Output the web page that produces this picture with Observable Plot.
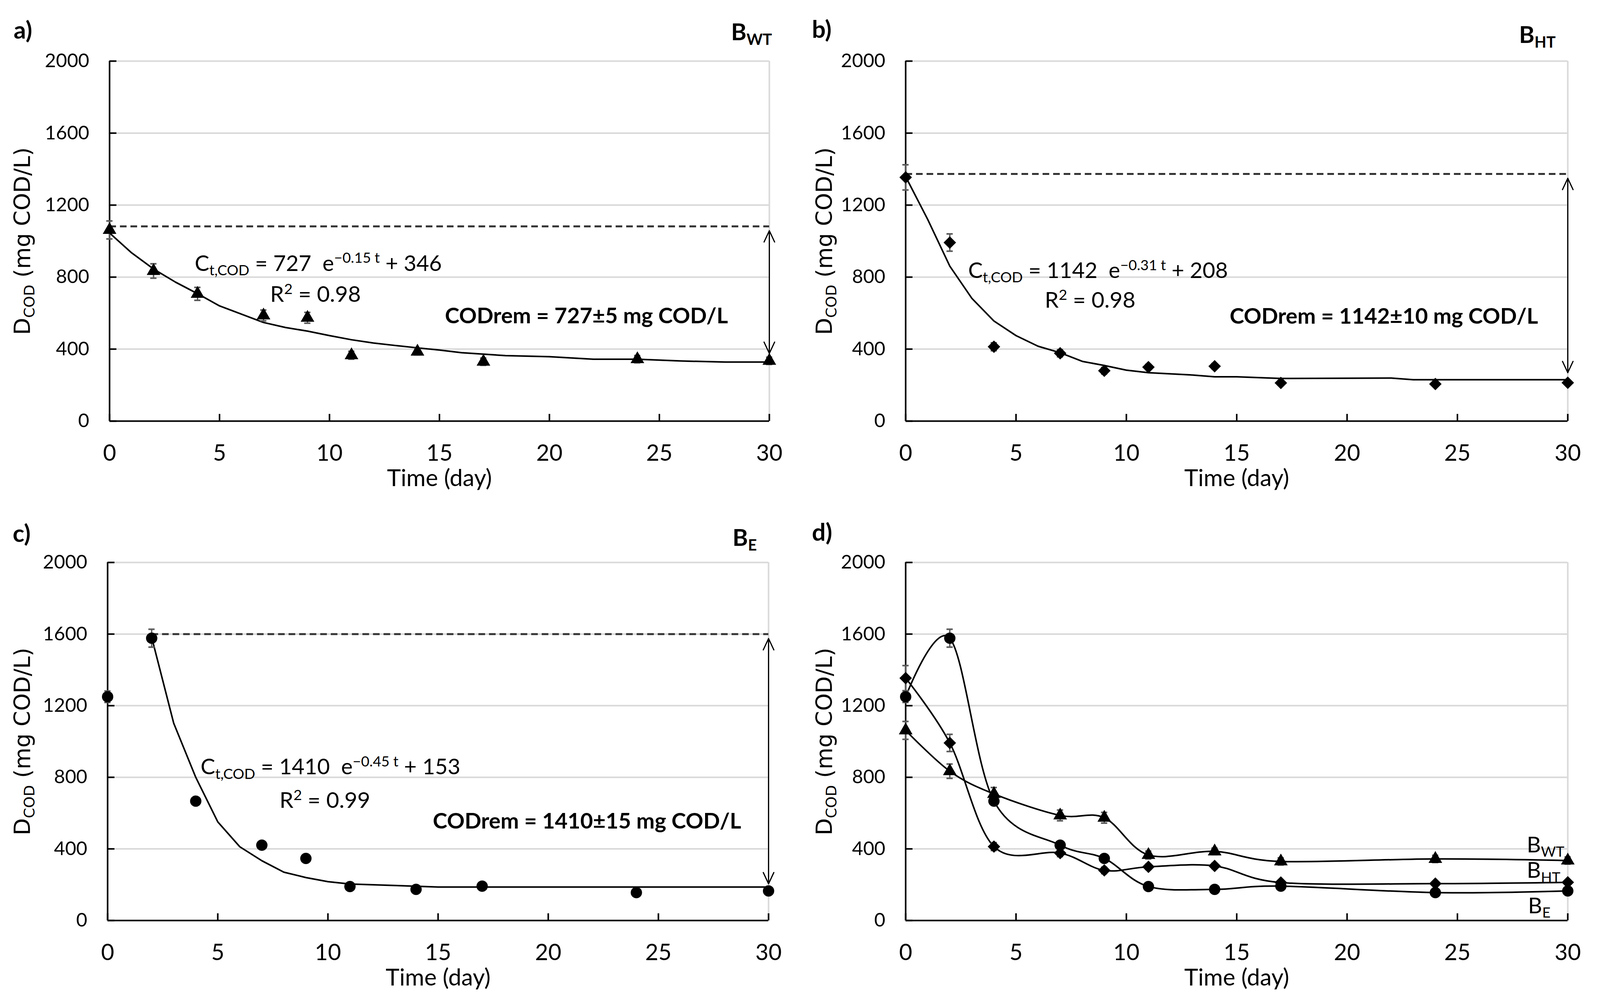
<!DOCTYPE html>
<html><head><meta charset="utf-8">
<script src="https://cdn.jsdelivr.net/npm/d3@7"></script>
<script src="https://cdn.jsdelivr.net/npm/@observablehq/plot@0.6"></script>
<style>
body{margin:0;background:#fff;}
#fig{position:relative;width:4107px;height:2579px;background:#fff;overflow:hidden;}
.panel{position:absolute;}
svg{overflow:visible;}
</style></head><body><div id="fig"></div>
<script>
// ---------------- data ----------------
const days = [0, 2, 4, 7, 9, 11, 14, 17, 24, 30];
const bWT    = [1062, 834, 707, 587, 574, 366, 386, 330, 344, 335];
const bWTerr = [50, 40, 36, 30, 30, 22, 18, 20, 20, 20];
const bHT    = [1354, 992, 413, 377, 280, 300, 305, 212, 206, 213];
const bHTerr = [70, 48, 22, 20, 18, 15, 15, 12, 12, 12];
const bE     = [1250, 1577, 667, 421, 347, 190, 174, 192, 156, 165];
const bEerr  = [32, 50, 15, 12, 12, 10, 10, 10, 10, 10];

// fitted curves
const fitA_t = [0, 1, 2, 3, 4, 5, 7, 8, 9, 10, 11, 12, 13, 14, 15, 16, 18, 20, 22, 24, 26, 28, 30];
const fitA_v = [1045, 935, 845, 772, 708, 640, 548, 520, 500, 475, 452, 434, 420, 407, 395, 380, 364, 358, 344, 344, 334, 328, 328];
const fitB_t = [0, 1, 2, 3, 4, 5, 6, 7, 8, 9, 10, 11, 13, 14, 15, 17, 22, 23, 30];
const fitB_v = [1358, 1120, 861, 682, 556, 475, 416, 380, 332, 309, 283, 269, 256, 246, 246, 237, 239, 230, 230];
const fitC_t = [2, 3, 4, 5, 6, 7, 8, 9, 10, 11, 13, 15, 30];
const fitC_v = [1582, 1102, 800, 551, 412, 334, 270, 240, 217, 204, 196, 187, 187];

// initial level (dashed) and removal arrows [top, bottom]
const initLevel = {a: 1082, b: 1373, c: 1600};
const initStart = {a: 0, b: 0, c: 2};
const removal = {a: [1058, 376], b: [1349, 269], c: [1575, 205]};

const xTicks = [0, 5, 10, 15, 20, 25, 30];
const yTicks = [0, 400, 800, 1200, 1600, 2000];

// annotation texts & anchors (data coords)
const eqText = {
  a: "C_{t,COD} = 727\u00A0 e^{\u22120.15 t} + 346",
  b: "C_{t,COD} = 1142\u00A0 e^{\u22120.31 t} + 208",
  c: "C_{t,COD} = 1410\u00A0 e^{\u22120.45 t} + 153"
};
const eqPos = {a: [3.87, 835], b: [2.83, 795], c: [4.22, 816]};
const r2Text = {a: "R^{2} = 0.98", b: "R^{2} = 0.98", c: "R^{2} = 0.99"};
const r2Pos = {a: [7.3, 662], b: [6.3, 630], c: [7.8, 629]};
const remText = {a: "CODrem = 727\u00B15 mg COD/L", b: "CODrem = 1142\u00B110 mg COD/L", c: "CODrem = 1410\u00B115 mg COD/L"};
const remPos = {a: [15.25, 543], b: [14.68, 542], c: [14.76, 514]};
const panelLetter = {a: "a)", b: "b)", c: "c)", d: "d)"};
const letterPos = {a: [-4.36, 2125], b: [-4.25, 2128], c: [-4.31, 2115], d: [-4.25, 2120]};
const panelName = {a: "B_{WT}", b: "B_{HT}", c: "B_{E}"};
const namePos = {a: [30.12, 2117], b: [29.45, 2100], c: [29.47, 2092]};
const dLabels = ["B_{WT}", "B_{HT}", "B_{E}"];
const dLabelT = [28.14, 28.14, 28.2];
const dLabelV = [380, 238, 41];

// ---------------- helpers ----------------
const rows = (t, v, e) => t.map((d, i) => ({t: d, v: v[i], e: e ? e[i] : 0}));
const WT = rows(days, bWT, bWTerr), HT = rows(days, bHT, bHTerr), E = rows(days, bE, bEerr);
const svgNS = "http://www.w3.org/2000/svg";

function richify(svg) {
  svg.querySelectorAll("text").forEach(t => {
    const s = t.textContent;
    if (!/[_^]\{/.test(s)) return;
    const fs = parseFloat(getComputedStyle(t).fontSize);
    while (t.firstChild) t.removeChild(t.firstChild);
    let shift = 0;
    const add = (txt, kind) => {
      if (!txt) return;
      const ts = document.createElementNS(svgNS, "tspan");
      const target = kind === "^" ? -0.36 * fs : kind === "_" ? 0.2 * fs : 0;
      if (target - shift !== 0) ts.setAttribute("dy", target - shift);
      shift = target;
      if (kind) ts.setAttribute("font-size", 0.66 * fs);
      ts.textContent = txt;
      t.appendChild(ts);
    };
    const re = /([_^])\{([^}]*)\}/g;
    let last = 0, m;
    while ((m = re.exec(s))) {
      add(s.slice(last, m.index), null);
      add(m[2], m[1]);
      last = re.lastIndex;
    }
    add(s.slice(last), null);
  });
}

const geo = {
  a: {left: 0, top: 0, w: 2053, h: 1290, x0: 280, x1: 1969, yT: 156, yB: 1078},
  b: {left: 2053, top: 0, w: 2054, h: 1290, x0: 2318, x1: 4013, yT: 156, yB: 1078},
  c: {left: 0, top: 1290, w: 2053, h: 1289, x0: 275, x1: 1967, yT: 1440, yB: 2357},
  d: {left: 2053, top: 1290, w: 2054, h: 1289, x0: 2318, x1: 4013, yT: 1440, yB: 2357}
};

const GRID = "#d9d9d9", ERR = "#595959";

function baseMarks(g) {
  return [
    Plot.ruleY(yTicks.slice(1), {stroke: GRID, strokeWidth: 4}),
    Plot.ruleX([30], {stroke: GRID, strokeWidth: 4}),
    Plot.ruleX([0], {stroke: "black", strokeWidth: 4}),
    Plot.ruleY([0], {stroke: "black", strokeWidth: 4}),
    Plot.ruleY(yTicks, {x1: 0, x2: 0, insetRight: -18, stroke: "black", strokeWidth: 4}),
    Plot.ruleX(xTicks, {y1: 0, y2: 0, insetTop: -18, stroke: "black", strokeWidth: 4}),
    Plot.axisX({ticks: xTicks, tickSize: 0, tickPadding: 60, fontSize: 58, label: null, tickFormat: d => String(d)}),
    Plot.axisY({ticks: yTicks, tickSize: 0, tickPadding: 52, fontSize: 49, label: null, tickFormat: d => String(d)}),
    Plot.text(["Time (day)"], {frameAnchor: "bottom", dy: 166, lineAnchor: "bottom", fontSize: 60, text: d => d}),
    Plot.text(["D_{COD} (mg COD/L)"], {frameAnchor: "left", dx: -(g.x0 - g.left) + 58, rotate: -90, textAnchor: "middle", lineAnchor: "middle", fontSize: 57, fontFamily: "DejaVu Sans", text: d => d})
  ];
}

function errMarks(data) {
  return [
    Plot.ruleX(data, {x: "t", y1: d => d.v - d.e, y2: d => d.v + d.e, stroke: ERR, strokeWidth: 3.5}),
    Plot.ruleY(data, {x1: "t", x2: "t", y: d => d.v + d.e, insetLeft: -8, insetRight: -8, stroke: ERR, strokeWidth: 4}),
    Plot.ruleY(data, {x1: "t", x2: "t", y: d => d.v - d.e, insetLeft: -8, insetRight: -8, stroke: ERR, strokeWidth: 4})
  ];
}

const sym = {
  WT: {symbol: "triangle", r: 13},
  HT: {symbol: "diamond2", r: 14.4},
  E: {symbol: "circle", r: 14.5}
};

function dots(data, s) {
  return Plot.dot(data, {x: "t", y: "v", symbol: s.symbol, r: s.r, fill: "black", stroke: "none"});
}

function titleMarks(k) {
  const m = [
    Plot.text([panelLetter[k]], {x: letterPos[k][0], y: letterPos[k][1], text: d => d, textAnchor: "start", lineAnchor: "bottom", fontSize: 62, fontWeight: "bold"})
  ];
  if (panelName[k]) m.push(Plot.text([panelName[k]], {x: namePos[k][0], y: namePos[k][1], text: d => d, textAnchor: "end", lineAnchor: "bottom", fontSize: 60, fontWeight: "bold"}));
  return m;
}

function fitPanelMarks(k, data, s, ft, fv) {
  const fit = ft.map((t, i) => ({t, v: fv[i]}));
  const [top, bot] = removal[k];
  const mid = (top + bot) / 2;
  return [
    Plot.ruleY([initLevel[k]], {x1: initStart[k], x2: 30, stroke: "#333333", strokeWidth: 5, strokeDasharray: "17,10"}),
    Plot.line(fit, {x: "t", y: "v", stroke: "black", strokeWidth: 4}),
    ...errMarks(data),
    dots(data, s),
    Plot.arrow([top, bot], {x1: 30, y1: mid, x2: 30, y2: d => d, stroke: "black", strokeWidth: 3, headLength: 16, headAngle: 50}),
    Plot.text([eqText[k]], {x: eqPos[k][0], y: eqPos[k][1], text: d => d, textAnchor: "start", lineAnchor: "bottom", fontSize: 56}),
    Plot.text([r2Text[k]], {x: r2Pos[k][0], y: r2Pos[k][1], text: d => d, textAnchor: "start", lineAnchor: "bottom", fontSize: 57}),
    Plot.text([remText[k]], {x: remPos[k][0], y: remPos[k][1], text: d => d, textAnchor: "start", lineAnchor: "bottom", fontSize: 56, fontWeight: "bold"}),
    ...titleMarks(k)
  ];
}

function dPanelMarks() {
  const all = [...WT.map(d => ({...d, s: "WT"})), ...HT.map(d => ({...d, s: "HT"})), ...E.map(d => ({...d, s: "E"}))];
  return [
    Plot.line(all, {x: "t", y: "v", z: "s", curve: "cardinal", stroke: "black", strokeWidth: 4}),
    ...errMarks(all),
    dots(WT, sym.WT), dots(HT, sym.HT), dots(E, sym.E),
    Plot.text(dLabels, {x: (d, i) => dLabelT[i], y: (d, i) => dLabelV[i], text: d => d, textAnchor: "start", lineAnchor: "bottom", fontSize: 56}),
    ...titleMarks("d")
  ];
}

const panelMarks = {
  a: fitPanelMarks("a", WT, sym.WT, fitA_t, fitA_v),
  b: fitPanelMarks("b", HT, sym.HT, fitB_t, fitB_v),
  c: fitPanelMarks("c", E, sym.E, fitC_t, fitC_v),
  d: dPanelMarks()
};

const fig = document.getElementById("fig");
for (const k of ["a", "b", "c", "d"]) {
  const g = geo[k];
  const div = document.createElement("div");
  div.className = "panel";
  div.style.left = g.left + "px";
  div.style.top = g.top + "px";
  fig.appendChild(div);
  const svg = Plot.plot({
    width: g.w, height: g.h,
    marginLeft: g.x0 - g.left, marginRight: g.left + g.w - g.x1,
    marginTop: g.yT - g.top, marginBottom: g.top + g.h - g.yB,
    x: {domain: [0, 30]}, y: {domain: [0, 2000]},
    style: {fontFamily: "Lato", background: "transparent", overflow: "visible", color: "black"},
    marks: [...baseMarks(g), ...panelMarks[k]]
  });
  div.appendChild(svg);
  richify(svg);
}
</script></body></html>
